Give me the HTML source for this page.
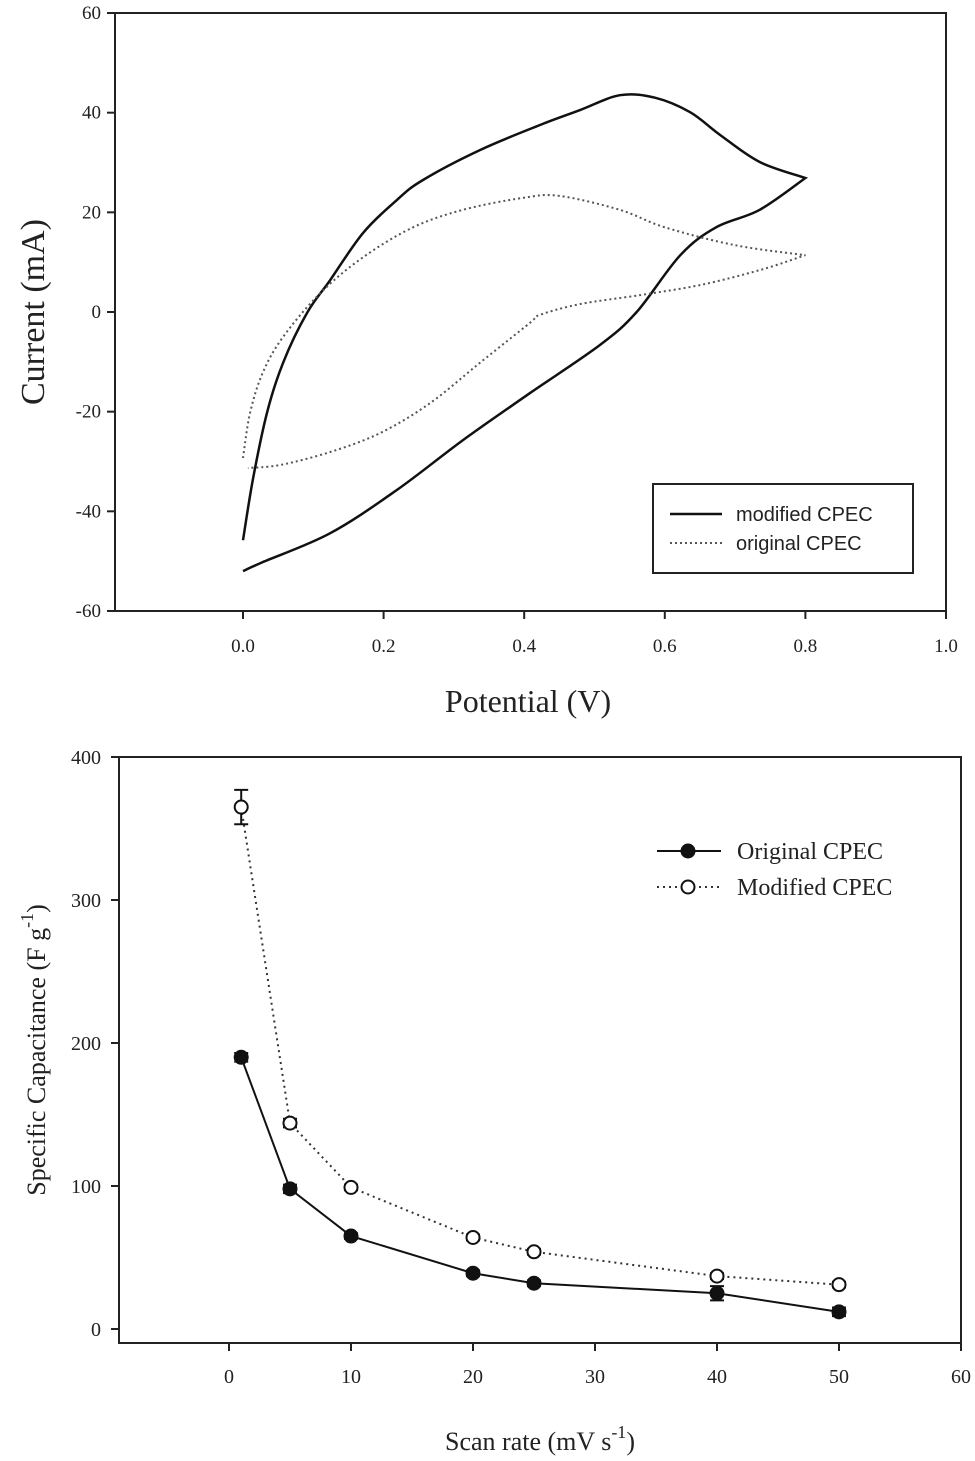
<!DOCTYPE html>
<html><head><meta charset="utf-8">
<style>
html,body{margin:0;padding:0;background:#fff;}
svg{display:block;}
text{font-family:"Liberation Serif",serif;fill:#222;}
</style></head>
<body>
<svg id="svg" width="975" height="1461" viewBox="0 0 975 1461">
<g id="topg"></g>
<g id="botg"></g>
</svg>
<script>
// ---- Top chart data (CV curves) ----
const cvModV=[0,0.014,0.034,0.057,0.091,0.124,0.171,0.219,0.256,0.337,0.422,0.479,0.536,0.586,0.636,0.679,0.735,0.8,0.735,0.673,0.622,0.56,0.508,0.408,0.313,0.219,0.124,0.028,0];
const cvModI=[-45.8,-33.7,-20.3,-10.2,-0.2,6.4,15.9,22.5,26.5,32.5,37.5,40.5,43.5,43,40.1,35.5,30.1,26.9,20.5,17,11.4,0,-6.6,-16.3,-25.7,-35.7,-44.4,-50.2,-52];
const cvOrigV=[0,0.010,0.028,0.057,0.11,0.171,0.242,0.313,0.398,0.45,0.536,0.6,0.7,0.8,0.735,0.65,0.565,0.48,0.422,0.408,0.337,0.266,0.195,0.124,0.053,0.007];
const cvOrigI=[-29.3,-20.3,-12.2,-5,3.8,11,17,20.5,22.9,23.3,20.5,17,13.4,11.4,8.4,5.4,3.4,1.6,-0.6,-2.2,-10.2,-18.3,-24.3,-28.1,-30.7,-31.3];
const cvXTicks=[0.0,0.2,0.4,0.6,0.8,1.0];
const cvYTicks=[-60,-40,-20,0,20,40,60];
// ---- Bottom chart data ----
const scanRates=[1,5,10,20,25,40,50];
const origCap=[190,98,65,39,32,25,12];
const origErr=[3,3,2,2,2,5,3];
const modCap=[365,144,99,64,54,37,31];
const modErr=[12,3,2,2,2,2,2];
const capXTicks=[0,10,20,30,40,50,60];
const capYTicks=[0,100,200,300,400];

const NS="http://www.w3.org/2000/svg";
function mk(parent,tag,attrs,txt){const e=document.createElementNS(NS,tag);for(const k in attrs)e.setAttribute(k,attrs[k]);if(txt!==undefined)e.textContent=txt;parent.appendChild(e);return e;}

// ===== Top =====
const topG=document.getElementById('topg');
const tx=v=>243+703*v, ty=i=>312-4.983*i;
let el=mk(topG,'rect',{x:115,y:13,width:831,height:598,fill:'none',stroke:'#222','stroke-width':2});


cvXTicks.forEach(v=>{
  let t=mk(topG,'line',{x1:tx(v),x2:tx(v),y1:611,y2:619,stroke:'#222','stroke-width':2});
  
  
  let l=mk(topG,'text',{x:tx(v),y:652,'font-size':19,'text-anchor':'middle'},v.toFixed(1));
  
  
});
cvYTicks.forEach(v=>{
  let t=mk(topG,'line',{x1:107,x2:115,y1:ty(v),y2:ty(v),stroke:'#222','stroke-width':2});
  
  
  let l=mk(topG,'text',{x:101,y:ty(v)+6,'font-size':19,'text-anchor':'end'},String(v));
  
  
});
function smooth(P){
  let d='M'+P[0][0].toFixed(1)+','+P[0][1].toFixed(1);
  for(let i=0;i<P.length-1;i++){
    const p0=P[Math.max(0,i-1)],p1=P[i],p2=P[i+1],p3=P[Math.min(P.length-1,i+2)];
    const c1=[p1[0]+(p2[0]-p0[0])/6,p1[1]+(p2[1]-p0[1])/6];
    const c2=[p2[0]-(p3[0]-p1[0])/6,p2[1]-(p3[1]-p1[1])/6];
    d+='C'+c1.map(n=>n.toFixed(1)).join(',')+' '+c2.map(n=>n.toFixed(1)).join(',')+' '+p2.map(n=>n.toFixed(1)).join(',');
  }
  return d;
}
function loopPath(V,I){
  const P=V.map((v,k)=>[tx(v),ty(I[k])]);
  let m=0;V.forEach((v,k)=>{if(v>V[m])m=k;});
  return smooth(P.slice(0,m+1))+' '+smooth(P.slice(m)).replace('M','L');
}
el=mk(topG,'path',{d:loopPath(cvModV,cvModI),fill:'none',stroke:'#111','stroke-width':2.5,'stroke-linejoin':'miter'});


el=mk(topG,'path',{d:loopPath(cvOrigV,cvOrigI),fill:'none',stroke:'#555','stroke-width':2,'stroke-dasharray':'2 3'});


el=mk(topG,'text',{x:0,y:0,'font-size':34,'text-anchor':'middle',transform:'translate(44,312) rotate(-90)'},'Current (mA)');


el=mk(topG,'text',{x:528,y:712,'font-size':32,'text-anchor':'middle'},'Potential (V)');


const lg=mk(topG,'g',{});


mk(lg,'rect',{x:653,y:484,width:260,height:89,fill:'#fff',stroke:'#222','stroke-width':2});
mk(lg,'line',{x1:670,x2:722,y1:514,y2:514,stroke:'#111','stroke-width':2.5});
mk(lg,'text',{x:736,y:521,'font-size':20,style:'font-family:"Liberation Sans",sans-serif'},'modified CPEC');
mk(lg,'line',{x1:670,x2:722,y1:543,y2:543,stroke:'#555','stroke-width':2,'stroke-dasharray':'2 3'});
mk(lg,'text',{x:736,y:550,'font-size':20,style:'font-family:"Liberation Sans",sans-serif'},'original CPEC');

// ===== Bottom =====
const botG=document.getElementById('botg');
const bx=v=>229+12.2*v, by=c=>1329-1.43*c;
el=mk(botG,'rect',{x:119,y:757,width:842,height:586,fill:'none',stroke:'#222','stroke-width':2});


capXTicks.forEach(v=>{
  let t=mk(botG,'line',{x1:bx(v),x2:bx(v),y1:1343,y2:1351,stroke:'#222','stroke-width':2});
  
  
  let l=mk(botG,'text',{x:bx(v),y:1383,'font-size':20,'text-anchor':'middle'},String(v));
  
  
});
capYTicks.forEach(v=>{
  let t=mk(botG,'line',{x1:111,x2:119,y1:by(v),y2:by(v),stroke:'#222','stroke-width':2});
  
  
  let l=mk(botG,'text',{x:101,y:by(v)+7,'font-size':20,'text-anchor':'end'},String(v));
  
  
});
function series(vals,errs,filled,name){
  const g=mk(botG,'g',{});
  
  
  const pts=scanRates.map((s,k)=>bx(s)+','+by(vals[k])).join(' ');
  mk(g,'polyline',filled?{points:pts,fill:'none',stroke:'#111','stroke-width':2}:{points:pts,fill:'none',stroke:'#333','stroke-width':2,'stroke-dasharray':'2 4'});
  scanRates.forEach((s,k)=>{
    const x=bx(s),y1=by(vals[k]+errs[k]),y2=by(vals[k]-errs[k]);
    const e=mk(g,'path',{d:`M${x},${y1}V${y2}M${x-7},${y1}H${x+7}M${x-7},${y2}H${x+7}`,stroke:'#111','stroke-width':2,fill:'none'});
    
    
    const c=mk(g,'circle',{cx:x,cy:by(vals[k]),r:6.5,fill:filled?'#111':'#fff',stroke:'#111','stroke-width':2});
    
    
  });
}
series(modCap,modErr,false,'modified-cpec-series');
series(origCap,origErr,true,'original-cpec-series');
el=mk(botG,'text',{'font-size':26,'text-anchor':'middle',transform:'translate(45,1050) rotate(-90)'},'Specific Capacitance (F g');
mk(el,'tspan',{dy:-12,'font-size':18},'-1');
mk(el,'tspan',{dy:12},')');


el=mk(botG,'text',{x:540,y:1450,'font-size':26,'text-anchor':'middle'},'Scan rate (mV s');
mk(el,'tspan',{dy:-12,'font-size':18},'-1');
mk(el,'tspan',{dy:12},')');


const lg2=mk(botG,'g',{});


mk(lg2,'line',{x1:657,x2:721,y1:851,y2:851,stroke:'#111','stroke-width':2});
mk(lg2,'circle',{cx:688,cy:851,r:6.5,fill:'#111',stroke:'#111','stroke-width':2});
mk(lg2,'text',{x:737,y:859,'font-size':24},'Original CPEC');
mk(lg2,'line',{x1:657,x2:721,y1:887,y2:887,stroke:'#333','stroke-width':2,'stroke-dasharray':'2 4'});
mk(lg2,'circle',{cx:688,cy:887,r:6.5,fill:'#fff',stroke:'#111','stroke-width':2});
mk(lg2,'text',{x:737,y:895,'font-size':24},'Modified CPEC');
</script>
</body></html>
